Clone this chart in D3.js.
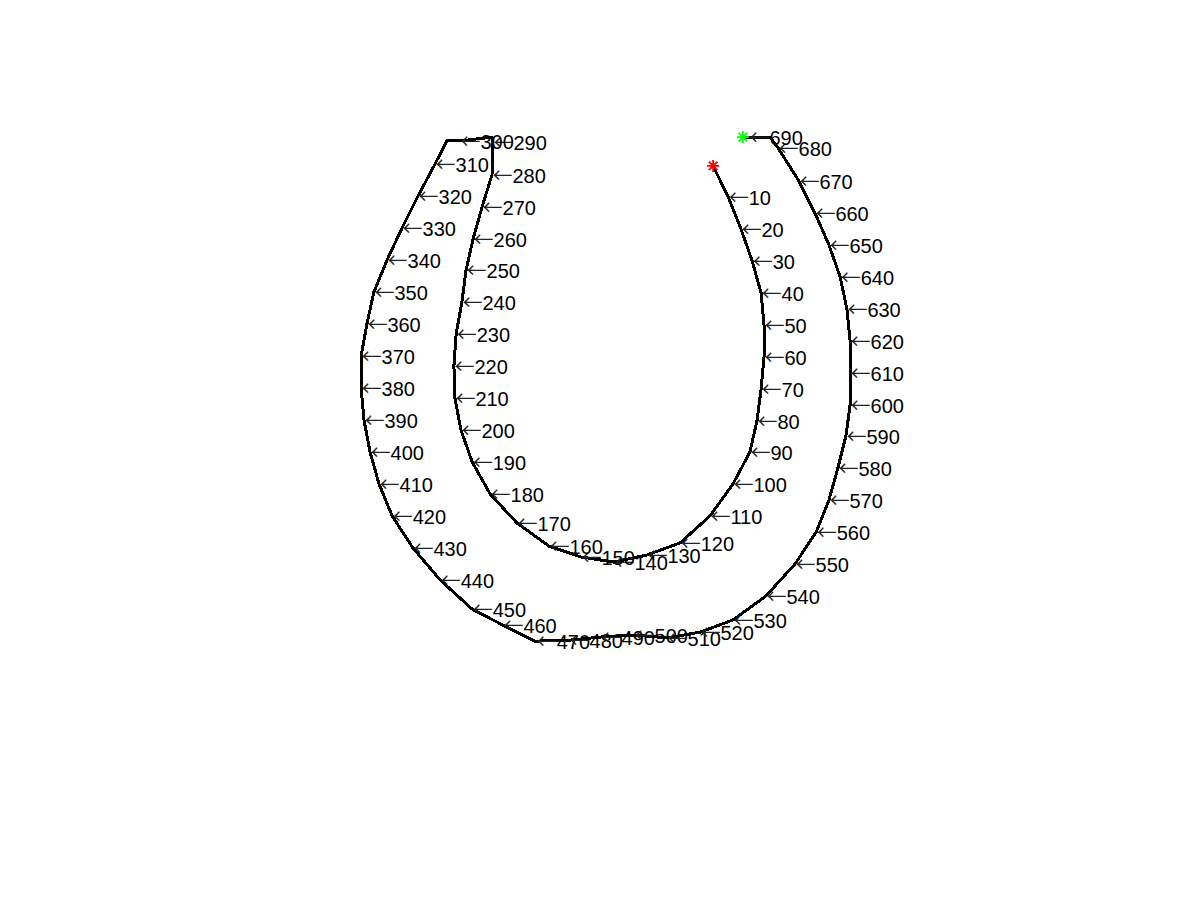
<!DOCTYPE html>
<html>
<head>
<meta charset="utf-8">
<script src="https://cdn.jsdelivr.net/npm/d3@7"></script>
<style>
  html, body { margin: 0; padding: 0; background: #ffffff; }
  svg { display: block; }
</style>
</head>
<body>
<div id="chart"></div>
<script>
// Boundary trace vertices (image column / row units); label 0 = unlabeled vertex
const traceX = [129.1, 133.8, 137.8, 141.3, 144.1, 145.0, 145.0, 144.1, 142.8, 140.6,
  135.3, 128.1, 118.8, 108.4, 98.1, 87.8, 77.8, 67.8, 59.4, 53.8,
  50.3, 48.4, 48.1, 48.8, 50.6, 51.9, 54.1, 56.9, 60.0, 60.3,
  60.0, 50.0, 45.9, 42.2, 36.9, 31.9, 27.2, 23.1, 20.9, 19.1,
  19.1, 20.0, 21.9, 24.7, 28.8, 35.3, 43.8, 53.8, 63.4, 73.4,
  73.8, 84.1, 94.1, 104.4, 114.7, 125.0, 135.3, 145.6, 154.7, 161.3,
  165.3, 168.1, 170.6, 171.9, 171.9, 171.9, 170.9, 168.8, 165.3, 160.9,
  155.9, 149.4, 146.9, 140.3, 138.4];
const traceY = [20.6, 30.3, 40.3, 50.3, 60.3, 70.3, 80.3, 90.3, 100.3, 110.0,
  120.0, 130.0, 138.4, 142.2, 144.4, 142.8, 139.4, 132.2, 123.1, 113.1,
  103.1, 93.1, 83.1, 73.1, 63.1, 53.1, 43.4, 33.4, 23.4, 13.0,
  11.6, 12.8, 12.8, 20.0, 30.0, 40.0, 50.0, 60.0, 70.0, 80.0,
  90.0, 100.0, 110.0, 120.0, 130.0, 140.0, 150.0, 159.1, 164.1, 169.1,
  169.1, 168.8, 167.8, 167.2, 168.1, 166.3, 162.5, 155.0, 145.0, 135.0,
  125.0, 115.0, 105.0, 95.3, 85.3, 75.3, 65.3, 55.3, 45.3, 35.3,
  25.3, 15.0, 11.6, 11.6, 11.6];
const traceLabel = [0, 10, 20, 30, 40, 50, 60, 70, 80, 90,
  100, 110, 120, 130, 140, 150, 160, 170, 180, 190,
  200, 210, 220, 230, 240, 250, 260, 270, 280, 290,
  0, 300, 0, 310, 320, 330, 340, 350, 360, 370,
  380, 390, 400, 410, 420, 430, 440, 450, 460, 0,
  470, 480, 490, 500, 510, 520, 530, 540, 550, 560,
  570, 580, 590, 600, 610, 620, 630, 640, 650, 660,
  670, 680, 0, 690, 0];

const W = 1200, H = 900;
const svg = d3.select("#chart").append("svg").attr("width", W).attr("height", H);

const x = d3.scaleLinear().domain([0, 250]).range([300, 1100]);
const y = d3.scaleLinear().domain([0, 200]).range([100, 740]);

const pts = traceX.map((v, i) => ({ c: v, r: traceY[i], n: traceLabel[i] }));

const line = d3.line().x(d => x(d.c)).y(d => y(d.r));
svg.append("path")
  .datum(pts)
  .attr("d", line)
  .attr("fill", "none")
  .attr("stroke", "#000")
  .attr("stroke-width", 3)
  .attr("stroke-linejoin", "miter")
  .attr("shape-rendering", "crispEdges");

// start / end markers (asterisks)
function star(g, cx, cy, color) {
  const s = 6, d = 4.3;
  g.append("path")
    .attr("d", `M${cx - s},${cy}L${cx + s},${cy}M${cx},${cy - s}L${cx},${cy + s}` +
               `M${cx - d},${cy - d}L${cx + d},${cy + d}M${cx - d},${cy + d}L${cx + d},${cy - d}`)
    .attr("stroke", color).attr("stroke-width", 1.8).attr("fill", "none");
}
const first = pts[0], last = pts[pts.length - 1];
star(svg, x(first.c), y(first.r), "#ff0000");
star(svg, x(last.c), y(last.r), "#00ff00");

// labels
const lbl = svg.append("g").selectAll("text")
  .data(pts.filter(d => d.n > 0))
  .join("text")
  .attr("x", d => x(d.c) + 0.5)
  .attr("y", d => y(d.r) + 8)
  .attr("font-family", "'Liberation Sans', Arial, Helvetica, sans-serif")
  .attr("font-size", 20)
  .attr("fill", "#000");
lbl.append("tspan")
  .attr("font-family", "'Noto Sans CJK SC', 'DejaVu Sans', sans-serif")
  .attr("fill", "#222")
  .text("\u2190");
lbl.append("tspan")
  .text(d => d.n);
</script>
</body>
</html>
